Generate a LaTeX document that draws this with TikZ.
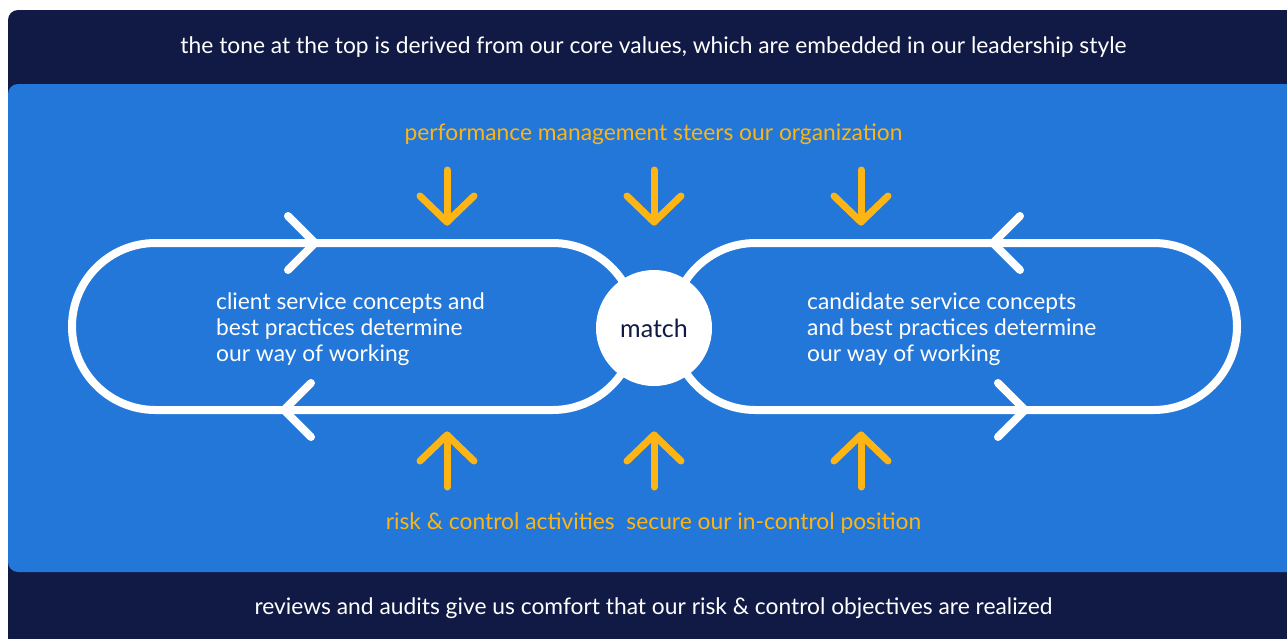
\documentclass[tikz,border=0pt]{standalone}
\usepackage{fontspec}
\setmainfont{Lato}
\usetikzlibrary{positioning, calc}
\definecolor{navy}{HTML}{101A44}
\definecolor{brand}{HTML}{2277D9}
\definecolor{gold}{HTML}{FDB515}

\begin{document}
\begin{tikzpicture}[x=1pt, y=-1pt,
  loopline/.style={white, line width=8pt, line cap=round, line join=round},
  steer/.style={gold, line width=7pt, line cap=round, line join=round},
  lbl/.style={font=\fontsize{22.8}{26}\selectfont, inner sep=0pt}]
\useasboundingbox (0,0) rectangle (1287,638);
\fill[white] (0,0) rectangle (1287,638);
% panels
\fill[navy, rounded corners=10pt] (8,10) rectangle (1310,660);
\fill[brand, rounded corners=10pt] (8,84) rectangle (1310,572);
\node[lbl, text=white] (tone) at (653.5,47) {the tone at the top is derived from our core values, which are embedded in our leadership style};
\node[lbl, text=white] (audit) at (653.5,608) {reviews and audits give us comfort that our risk \& control objectives are realized};
%
% loops
\draw[loopline, rounded corners=83.5pt] (72,243) rectangle (636,410);
\draw[loopline, rounded corners=83.5pt] (672,243) rectangle (1237,410);
\draw[loopline] (288,216) -- (315,243) -- (288,270);
\draw[loopline] (311,383) -- (284,410) -- (311,437);
\draw[loopline] (1020,216) -- (993,243) -- (1020,270);
\draw[loopline] (998,383) -- (1025,410) -- (998,437);
\node[circle, fill=white, minimum size=116pt, inner sep=0pt, font=\fontsize{25}{28}\selectfont, text=navy] (match) at (654,328) {match};
\node[lbl, text=white, anchor=west, align=left] (client) at (216,329) {client service concepts and\\best practices determine\\our way of working};
\node[lbl, text=white, anchor=west, align=left] (candidate) at (807,329) {candidate service concepts\\and best practices determine\\our way of working};
%
% steering arrows
\node[lbl, text=gold] (perf) at (653.5,134) {performance management steers our organization};
\node[lbl, text=gold] (risk) at (653.5,523) {risk \& control activities\ \ secure our in-control position};
\foreach \x in {447,654,861} {
  \draw[steer] (\x,170) -- (\x,222);
  \draw[steer] (\x-27,196) -- (\x,222) -- (\x+27,196);
  \draw[steer] (\x,487) -- (\x,435);
  \draw[steer] (\x-27,461) -- (\x,435) -- (\x+27,461);
}
\end{tikzpicture}
\end{document}
